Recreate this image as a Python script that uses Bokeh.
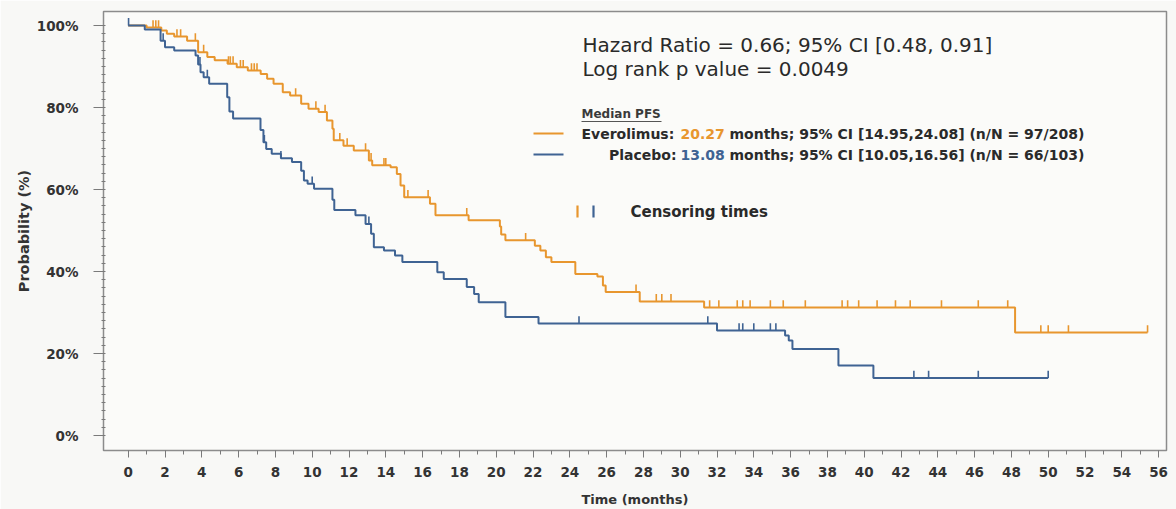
from bokeh.plotting import figure
from bokeh.models import Range1d, Label, FixedTicker
from bokeh.embed import file_html
from bokeh.resources import INLINE

ORANGE = "#E8962E"
BLUE = "#3F6393"
TXT = "#2a2a2a"
FONT = "DejaVu Sans"

# ---------------- data ----------------
evero_times = [0, 1.0, 1.8, 2.1, 2.5, 3.2, 3.8, 4.3, 4.7, 5.4, 5.9, 6.5, 7.2, 7.55, 7.9,
               8.4, 8.8, 9.4, 9.8, 10.35, 10.8, 11.1, 11.17, 11.7, 12.26, 13.08, 13.26,
               14.26, 14.6, 14.8, 15.0, 16.4, 16.7, 18.5, 20.2, 20.27, 20.5, 22.1, 22.4,
               22.7, 23.0, 24.3, 25.5, 25.8, 25.95, 27.8, 31.3, 48.2]
evero_surv = [100, 99.5, 98.8, 98.0, 97.3, 96.3, 93.5, 92.3, 91.5, 90.7, 89.8, 89.0, 88.2, 87.0, 85.8,
              83.7, 82.9, 80.9, 79.7, 78.9, 76.8, 74.8, 72.0, 70.7, 69.5, 67.1, 65.9,
              65.4, 63.8, 61.0, 58.1, 56.5, 53.7, 52.5, 51.0, 49.0, 47.6, 46.3, 45.1,
              43.5, 42.3, 39.4, 38.8, 36.6, 35.0, 32.7, 31.2, 25.1]
evero_end = 55.4
evero_censor = [1.35, 1.5, 1.65, 2.65, 2.85, 3.65, 4.1, 5.45, 5.55, 5.7, 6.1, 6.25, 6.7, 6.85,
                7.0, 9.1, 10.2, 10.7, 11.5, 11.9, 12.9, 13.2, 13.9, 14.0, 15.2, 16.3, 18.4,
                21.6, 27.6, 28.7, 29.0, 29.5, 31.6, 32.1, 33.1, 33.4, 33.8, 34.9, 35.6, 36.8,
                38.8, 39.1, 39.7, 40.7, 41.7, 42.5, 44.2, 46.2, 47.8, 49.6, 50.0, 51.1, 55.4]

placebo_times = [0, 0.9, 1.76, 2.0, 2.5, 3.66, 3.8, 3.93, 4.1, 4.4, 5.38, 5.5, 5.7, 7.19, 7.35,
                 7.5, 7.8, 8.3, 8.9, 9.4, 9.55, 9.75, 10.1, 11.1, 11.2, 12.35, 12.9, 13.2,
                 13.35, 13.9, 14.5, 14.9, 16.8, 17.15, 18.4, 18.8, 19.05, 20.5, 22.3, 32.0,
                 35.7, 35.9, 36.1, 38.6, 40.5]
placebo_surv = [100, 99.0, 96.3, 94.7, 93.9, 92.7, 90.5, 88.6, 87.4, 85.8, 82.5, 79.0, 77.3, 74.5, 71.5,
                69.9, 68.7, 67.6, 66.7, 64.6, 62.2, 61.4, 60.2, 57.5, 55.0, 53.7, 51.6, 49.2,
                45.9, 45.1, 43.9, 42.3, 39.8, 38.2, 36.2, 34.5, 32.5, 28.9, 27.3, 25.6,
                24.4, 23.2, 21.1, 17.1, 14.0]
placebo_end = 50.0
placebo_censor = [0.02, 1.9, 3.9, 4.3, 7.4, 8.3, 10.0, 13.08, 24.5, 31.5, 33.2, 33.4, 34.0,
                  34.9, 35.2, 42.7, 43.5, 46.2, 50.0]

x_ticks = list(range(0, 57, 2))
x_minor = list(range(0, 57, 1))
y_ticks = [0, 20, 40, 60, 80, 100]
y_tick_labels = ["0%", "20%", "40%", "60%", "80%", "100%"]
y_minor = list(range(0, 101, 2))

# ---------------- layout helpers (page pixels -> data) ----------------
X0_PX, PX_PER_X = 127.7, 18.4
Y0_PX, PX_PER_Y = 435.0, 4.1
FRAME_L, FRAME_R, FRAME_T, FRAME_B = 103, 1166, 11, 450
W, H = 1176, 509


def ax(px):
    return (px - X0_PX) / PX_PER_X


def ay(py):
    return (Y0_PX - py) / PX_PER_Y


p = figure(width=W, height=H, output_backend="svg", toolbar_location=None,
           x_range=Range1d(ax(FRAME_L), ax(FRAME_R)),
           y_range=Range1d(ay(FRAME_B), ay(FRAME_T)),
           frame_width=FRAME_R - FRAME_L, frame_height=FRAME_B - FRAME_T,
           min_border_left=FRAME_L, min_border_right=W - FRAME_R,
           min_border_top=FRAME_T, min_border_bottom=H - FRAME_B)

p.background_fill_color = "#FBFBF9"
p.border_fill_color = "#F8F8F6"
p.outline_line_color = "#8c8c8c"
p.outline_line_width = 1.5
p.xgrid.visible = False
p.ygrid.visible = False

# axes
p.xaxis.ticker = FixedTicker(ticks=x_ticks, minor_ticks=x_minor)
p.yaxis.ticker = FixedTicker(ticks=y_ticks, minor_ticks=y_minor)
p.yaxis.major_label_overrides = {t: l for t, l in zip(y_ticks, y_tick_labels)}
for ax_ in (p.xaxis, p.yaxis):
    ax_.axis_line_color = "#8c8c8c"
    ax_.major_tick_line_color = "#7a7a7a"
    ax_.minor_tick_line_color = "#7a7a7a"
    ax_.major_label_text_font = FONT
    ax_.major_label_text_font_style = "bold"
    ax_.major_label_text_color = "#333333"
    ax_.axis_label_text_font = FONT
    ax_.axis_label_text_font_style = "bold"
    ax_.axis_label_text_color = "#333333"
p.xaxis.major_tick_out = 7
p.xaxis.major_tick_in = 0
p.xaxis.minor_tick_out = 4
p.xaxis.minor_tick_in = 0
p.xaxis.major_label_text_font_size = "13.5px"
p.xaxis.major_label_standoff = 9
p.xaxis.axis_label = "Time (months)"
p.xaxis.axis_label_text_font_size = "13px"
p.xaxis.axis_label_standoff = 12
p.yaxis.major_tick_out = 10
p.yaxis.major_tick_in = 0
p.yaxis.minor_tick_out = 2
p.yaxis.minor_tick_in = 2
p.yaxis.major_label_text_font_size = "13.5px"
p.yaxis.major_label_standoff = 15
p.yaxis.axis_label = "Probability (%)"
p.yaxis.axis_label_text_font_size = "14.5px"
p.yaxis.axis_label_standoff = 2


def step_xy(times, surv, end):
    return list(times) + [end], list(surv) + [surv[-1]]


def surv_at(times, surv, t):
    val = surv[0]
    for ti, si in zip(times, surv):
        if ti <= t:
            val = si
    return val


MARK_H = 1.8
for times, surv, end, cens, col in [
        (evero_times, evero_surv, evero_end, evero_censor, ORANGE),
        (placebo_times, placebo_surv, placebo_end, placebo_censor, BLUE)]:
    xs, ys = step_xy(times, surv, end)
    p.step(xs, ys, mode="after", line_color=col, line_width=2)
    cy = [surv_at(times, surv, t) for t in cens]
    p.segment(x0=cens, y0=cy, x1=cens, y1=[v + MARK_H for v in cy],
              line_color=col, line_width=1.6)

# ---------------- annotation block ----------------
def label(px, py, text, size, color=TXT, style="normal", align="left"):
    p.add_layout(Label(x=ax(px), y=ay(py), text=text, text_font=FONT,
                       text_font_size=size, text_font_style=style, text_color=color,
                       text_baseline="middle", text_align=align))


label(582, 44, "Hazard Ratio = 0.66; 95% CI [0.48, 0.91]", "20px")
label(582, 68, "Log rank p value = 0.0049", "20px")
label(581, 113, "Median PFS", "12px", color="#3a3a3a", style="bold")
p.segment(x0=[ax(581)], y0=[ay(121)], x1=[ax(661)], y1=[ay(121)], line_color="#555555", line_width=1)

ROW_E, ROW_P = 133, 154
p.segment(x0=[ax(533)], y0=[ay(ROW_E)], x1=[ax(563)], y1=[ay(ROW_E)], line_color=ORANGE, line_width=2)
p.segment(x0=[ax(533)], y0=[ay(ROW_P)], x1=[ax(563)], y1=[ay(ROW_P)], line_color=BLUE, line_width=2)
label(581, ROW_E, "Everolimus:", "14px", style="bold")
label(680, ROW_E, "20.27", "14px", color=ORANGE, style="bold")
label(729, ROW_E, "months; 95% CI [14.95,24.08] (n/N = 97/208)", "14px", style="bold")
label(676, ROW_P, "Placebo:", "14px", style="bold", align="right")
label(680, ROW_P, "13.08", "14px", color=BLUE, style="bold")
label(729, ROW_P, "months; 95% CI [10.05,16.56] (n/N = 66/103)", "14px", style="bold")

p.segment(x0=[ax(577), ax(593)], y0=[ay(217), ay(217)], x1=[ax(577), ax(593)], y1=[ay(205), ay(205)],
          line_color=[ORANGE, BLUE], line_width=2.2)
label(630, 211, "Censoring times", "15px", style="bold")

open("out.html", "w").write(file_html(p, INLINE))
